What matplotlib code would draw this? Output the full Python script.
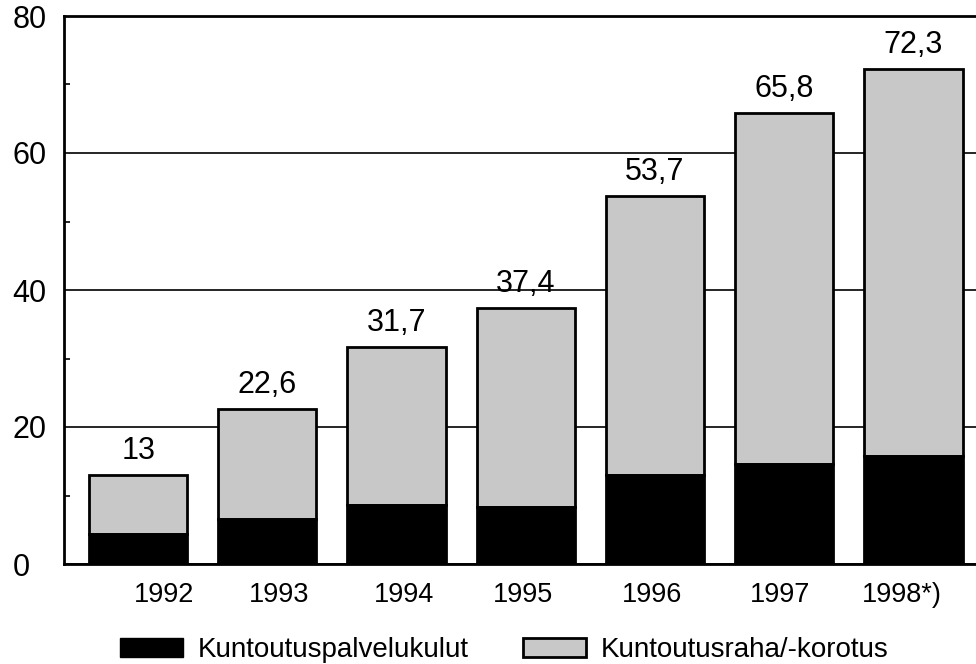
import matplotlib
matplotlib.use("Agg")
import matplotlib.pyplot as plt
from matplotlib.patches import Patch
from matplotlib.ticker import MultipleLocator

plt.rcParams['font.family'] = ['Liberation Sans', 'DejaVu Sans']

years = ["1992", "1993", "1994", "1995", "1996", "1997", "1998*)"]
services = [4.4, 6.6, 8.6, 8.3, 13.0, 14.6, 15.8]
totals = [13, 22.6, 31.7, 37.4, 53.7, 65.8, 72.3]
total_labels = ["13", "22,6", "31,7", "37,4", "53,7", "65,8", "72,3"]
label_shift = [0.2, 0.09, 0.06, -0.02, -0.02, -0.03, -0.09]

allowance = [t - s for t, s in zip(totals, services)]

fig = plt.figure(figsize=(9.76, 6.64), dpi=100)
ax = fig.add_axes([64/976, 100/664, 1 - 64/976 + 0.01, 548/664])

x = list(range(len(years)))
gray = '#c8c8c8'
ax.bar(x, services, width=0.76, color='black', edgecolor='black', linewidth=0, zorder=3)
ax.bar(x, allowance, bottom=services, width=0.76, color=gray, edgecolor='black',
       linewidth=2, zorder=3)
ax.bar(x, services, width=0.76, color='black', edgecolor='black', linewidth=2, zorder=4)

for xi, t, lab in zip(x, totals, total_labels):
    ax.text(xi, t + 1.3, lab, ha='center', va='bottom', fontsize=22)

ax.set_xlim(-0.574, 6.56)
ax.set_ylim(0, 80)
ax.yaxis.set_major_locator(MultipleLocator(20))
ax.yaxis.set_minor_locator(MultipleLocator(10))
ax.grid(axis='y', which='major', color='black', linewidth=1.2, zorder=1)
ax.tick_params(axis='y', which='major', direction='in', length=0, labelsize=22, pad=37)
ax.tick_params(axis='y', which='minor', direction='in', length=4, width=1.2)
for lab in ax.get_yticklabels():
    lab.set_horizontalalignment('left')

ax.set_xticks([xi + s for xi, s in zip(x, label_shift)])
ax.set_xticklabels(years, fontsize=19.5)
ax.tick_params(axis='x', length=0, pad=13)

for side in ['left', 'bottom', 'top']:
    ax.spines[side].set_linewidth(2)
ax.spines['right'].set_visible(False)

handles = [Patch(facecolor='black', edgecolor='black', label='Kuntoutuspalvelukulut'),
           Patch(facecolor=gray, edgecolor='black', linewidth=2, label='Kuntoutusraha/-korotus')]
fig.legend(handles=handles, loc='center left', bbox_to_anchor=(120/976, 1 - 650/664),
           ncol=2, frameon=False, fontsize=20, handlelength=2.27, handleheight=0.68,
           handletextpad=0.54, columnspacing=1.94, borderpad=0, borderaxespad=0)

fig.savefig('out.png', dpi=100)
